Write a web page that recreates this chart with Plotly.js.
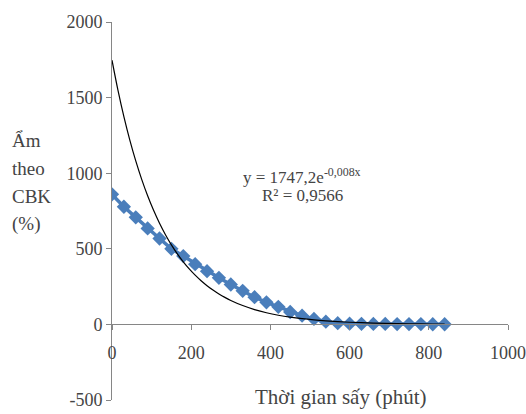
<!DOCTYPE html>
<html>
<head>
<meta charset="utf-8">
<script src="https://cdn.plot.ly/plotly-3.0.1.min.js"></script>
<style>html,body{margin:0;padding:0;background:#fff;}#chart{width:526px;height:414px;}</style>
</head>
<body>
<div id="chart"></div>
<script>
// Measured data: drying time (minutes) vs moisture on dry basis (%)
var timeMin = [0,30,60,90,120,150,180,210,240,270,300,330,360,390,420,450,480,510,540,570,600,630,660,690,720,750,780,810,840];
var moisture = [860,778,708,635,568,500,452,398,352,308,264,222,180,146,116,82,58,36,18,8,5,4,3,3,2,2,2,1,1];

// Exponential trendline coefficients shown on the chart
var trendA = 1747.2;
var trendB = -0.008;
var trendX = [0,15,30,45,60,75,90,105,120,135,150,165,180,195,210,225,240,255,270,285,300,330,360,390,420,450,480,510,540,570,600,630,660,690,720,750,780,810,840];

var xTicks = [0,200,400,600,800,1000];
var yTicks = [-500,0,500,1000,1500,2000];

var eqText = "y = 1747,2e<sup>-0,008x</sup>";
var r2Text = "R² = 0,9566";
var xTitle = "Thời gian sấy (phút)";
var yTitleLines = ["Ẩm", "theo", "CBK", "(%)"];

var trendY = trendX.map(function(x){ return trendA*Math.exp(trendB*x); });

var data = [
  {x: timeMin, y: moisture, type:'scatter', mode:'lines+markers',
   line:{color:'#4a7ebb', width:3.5},
   marker:{symbol:'diamond', size:11, color:'#4a7ebb'}, showlegend:false},
  {x: trendX, y: trendY, type:'scatter', mode:'lines',
   line:{color:'#000000', width:1.2, shape:'spline'}, showlegend:false}
];

function py(p){ return (414-14-p)/378; }
function px(p){ return (p-112)/396; }

var annotations = [
  {xref:'paper', yref:'paper', x:px(302), y:py(176), xanchor:'center', yanchor:'middle',
   text: eqText, showarrow:false, font:{family:'Liberation Serif', size:17}},
  {xref:'paper', yref:'paper', x:px(302), y:py(195), xanchor:'center', yanchor:'middle',
   text: r2Text, showarrow:false, font:{family:'Liberation Serif', size:17}},
  {xref:'paper', yref:'paper', x:px(341), y:py(397), xanchor:'center', yanchor:'middle',
   text: xTitle, showarrow:false, font:{family:'Liberation Serif', size:21}}
];
yTitleLines.forEach(function(t, i){
  annotations.push({xref:'paper', yref:'paper', x:px(10), y:py(140+28*i),
    xanchor:'left', yanchor:'middle', text:t, showarrow:false, align:'left',
    font:{family:'Liberation Serif', size:19}});
});

var layout = {
  width:526, height:414,
  margin:{l:112, r:18, t:22, b:14},
  xaxis:{range:[0,1000], tickvals:xTicks, ticktext:xTicks.map(String),
    showgrid:false, zeroline:false, showline:true, linecolor:'#868686', linewidth:1,
    ticks:'outside', ticklen:5, tickcolor:'#868686', ticklabeloverflow:'allow',
    ticklabelstandoff:7,
    anchor:'free', position:0.2, tickfont:{family:'Liberation Serif', size:18}},
  yaxis:{range:[-500,2000], tickvals:yTicks, ticktext:yTicks.map(String),
    showgrid:false, zeroline:false, showline:true, linecolor:'#868686', linewidth:1,
    ticks:'outside', ticklen:5, tickcolor:'#868686',
    tickfont:{family:'Liberation Serif', size:18}},
  annotations: annotations
};

Plotly.newPlot('chart', data, layout, {staticPlot:true});
</script>
</body>
</html>
